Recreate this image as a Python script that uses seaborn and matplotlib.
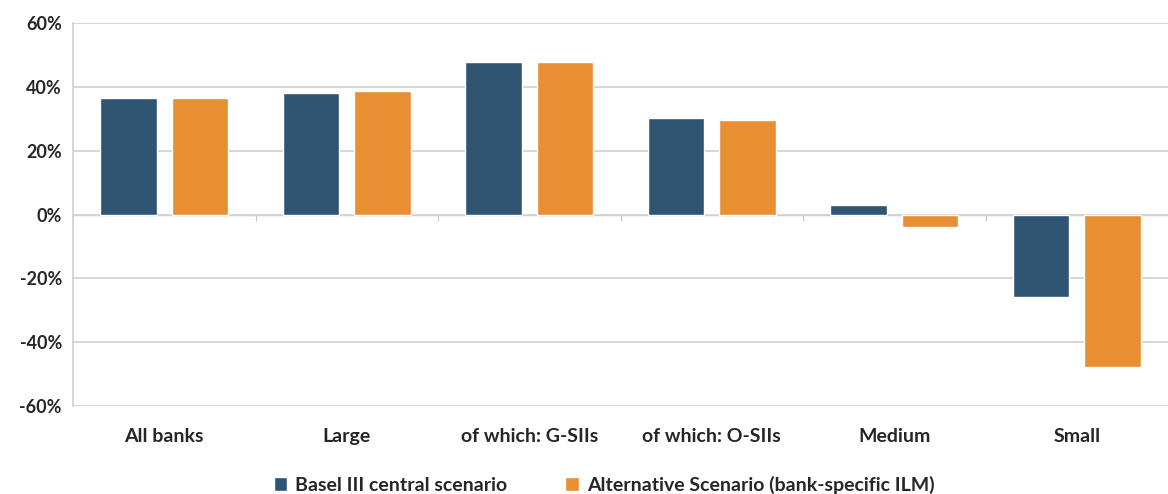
import pandas as pd
import matplotlib
matplotlib.use("Agg")
import matplotlib.pyplot as plt
import seaborn as sns
from matplotlib.ticker import FuncFormatter

# --- Data ---
categories = ["All banks", "Large", "of which: G-SIIs", "of which: O-SIIs", "Medium", "Small"]
basel_central = [36.6, 38.1, 47.8, 30.3, 3.0, -25.9]
alternative = [36.6, 38.7, 47.8, 29.7, -3.8, -47.9]
series_names = ["Basel III central scenario", "Alternative Scenario (bank-specific ILM)"]
colors = ["#2F5572", "#E88F33"]

df = pd.DataFrame({
    "category": categories * 2,
    "value": basel_central + alternative,
    "scenario": [series_names[0]] * len(categories) + [series_names[1]] * len(categories),
})

sns.set_style("white")
plt.rcParams["font.family"] = ["Lato", "DejaVu Sans"]

fig = plt.figure(figsize=(11.68, 4.94), dpi=100)
ax = fig.add_axes([0.0625, 0.178, 0.9375, 0.775])

sns.barplot(data=df, x="category", y="value", hue="scenario", order=categories,
            hue_order=series_names, palette=colors, width=0.785, gap=0.21,
            saturation=1, ax=ax, zorder=3)

ax.set_ylim(-60, 60)
ax.set_yticks(range(-60, 61, 20))
ax.yaxis.set_major_formatter(FuncFormatter(lambda v, p: f"{v:.0f}%"))
ax.set_xlim(-0.5, len(categories) - 0.5)
ax.grid(axis="y", color="#d6d6d6", linewidth=1.4, zorder=0)
ax.set_axisbelow(True)

for side in ["top", "right", "bottom"]:
    ax.spines[side].set_visible(False)
ax.spines["left"].set_color("#d6d6d6")
ax.spines["left"].set_linewidth(1.4)

ax.tick_params(axis="y", length=0, labelsize=13, pad=8)
ax.tick_params(axis="x", length=0, labelsize=14, pad=16)
for lbl in ax.get_xticklabels() + ax.get_yticklabels():
    lbl.set_fontweight("bold")
ax.set_xlabel("")
ax.set_ylabel("")

# zero axis with small ticks between groups
sec = ax.secondary_xaxis(0.5)
sec.set_xticks([i + 0.5 for i in range(len(categories) - 1)])
sec.set_xticklabels([""] * (len(categories) - 1))
sec.tick_params(axis="x", length=4, color="#c8c8c8", direction="in")
sec.spines["bottom"].set_color("#d6d6d6")
sec.spines["bottom"].set_linewidth(1.4)

ax.legend(loc="center", bbox_to_anchor=(0.485, -0.205), ncol=2, frameon=False,
          prop={"weight": "bold", "size": 14}, handlelength=0.7, handleheight=0.7,
          columnspacing=3.0, handletextpad=0.4)

fig.savefig("out.png", dpi=100)
